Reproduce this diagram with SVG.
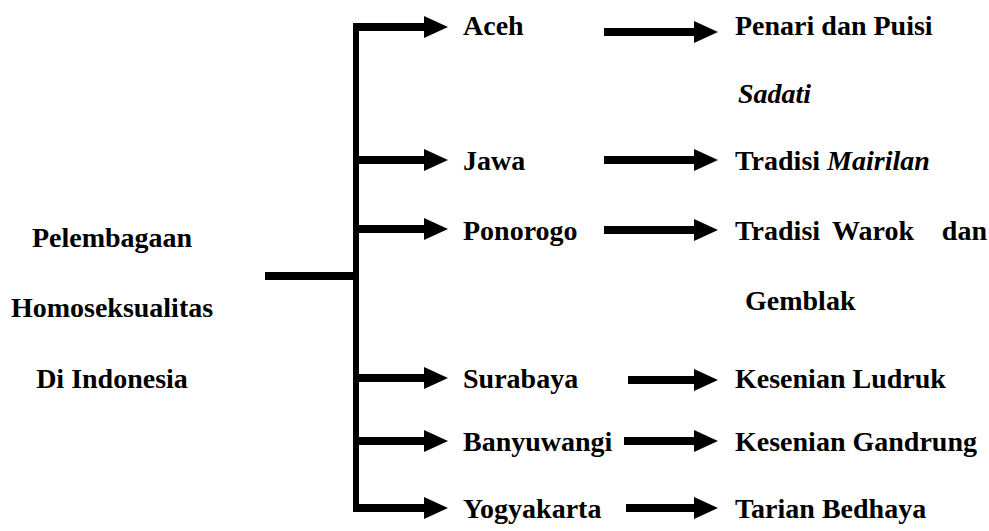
<svg xmlns="http://www.w3.org/2000/svg" width="989" height="531" viewBox="0 0 989 531">
<defs>
<style>
.it{font-style:italic}
.ln{stroke:#000;stroke-width:8;fill:none}
.vl{stroke:#000;stroke-width:6;fill:none}
</style>
<marker id="ah" markerUnits="userSpaceOnUse" markerWidth="24" markerHeight="22" viewBox="0 0 24 22" refX="0" refY="11" orient="auto">
<path d="M0,0 L24,11 L0,22 z" fill="#000"/>
</marker>
</defs>
<rect width="989" height="531" fill="#fff"/>
<g id="connectors">
<line class="ln" x1="265" y1="276" x2="357" y2="276"/>
<line class="vl" x1="356" y1="23" x2="356" y2="512"/>
<line class="ln" x1="353" y1="27" x2="424" y2="27" marker-end="url(#ah)"/>
<line class="ln" x1="353" y1="160" x2="424" y2="160" marker-end="url(#ah)"/>
<line class="ln" x1="353" y1="229" x2="424" y2="229" marker-end="url(#ah)"/>
<line class="ln" x1="353" y1="378" x2="424" y2="378" marker-end="url(#ah)"/>
<line class="ln" x1="353" y1="441" x2="424" y2="441" marker-end="url(#ah)"/>
<line class="ln" x1="353" y1="508" x2="424" y2="508" marker-end="url(#ah)"/>
<line class="ln" x1="604" y1="32" x2="694" y2="32" marker-end="url(#ah)"/>
<line class="ln" x1="604" y1="160" x2="694" y2="160" marker-end="url(#ah)"/>
<line class="ln" x1="604" y1="230" x2="694" y2="230" marker-end="url(#ah)"/>
<line class="ln" x1="628" y1="380" x2="694" y2="380" marker-end="url(#ah)"/>
<line class="ln" x1="624" y1="441" x2="694" y2="441" marker-end="url(#ah)"/>
<line class="ln" x1="626" y1="508" x2="694" y2="508" marker-end="url(#ah)"/>
</g>
<g font-family="'Liberation Serif', serif" font-size="28" font-weight="bold" fill="#000">
<g id="root">
<text x="112" y="247" text-anchor="middle">Pelembagaan</text>
<text x="112" y="317" text-anchor="middle">Homoseksualitas</text>
<text x="112" y="388" text-anchor="middle">Di Indonesia</text>
</g>
<g id="aceh"><text x="463" y="35">Aceh</text></g>
<g id="jawa"><text x="463" y="170">Jawa</text></g>
<g id="ponorogo"><text x="463" y="240">Ponorogo</text></g>
<g id="surabaya"><text x="463" y="388">Surabaya</text></g>
<g id="banyuwangi"><text x="463" y="451">Banyuwangi</text></g>
<g id="yogyakarta"><text x="463" y="518">Yogyakarta</text></g>
<g id="penari"><text x="735" y="35">Penari dan Puisi</text><text class="it" x="738" y="103">Sadati</text></g>
<g id="mairilan"><text x="735" y="170">Tradisi <tspan class="it">Mairilan</tspan></text></g>
<g id="warok"><text x="735" y="240">Tradisi</text><text x="832" y="240">Warok</text><text x="987" y="240" text-anchor="end">dan</text><text x="745" y="310">Gemblak</text></g>
<g id="ludruk"><text x="735" y="388">Kesenian Ludruk</text></g>
<g id="gandrung"><text x="735" y="451">Kesenian Gandrung</text></g>
<g id="bedhaya"><text x="735" y="518">Tarian Bedhaya</text></g>
</g>
</svg>
